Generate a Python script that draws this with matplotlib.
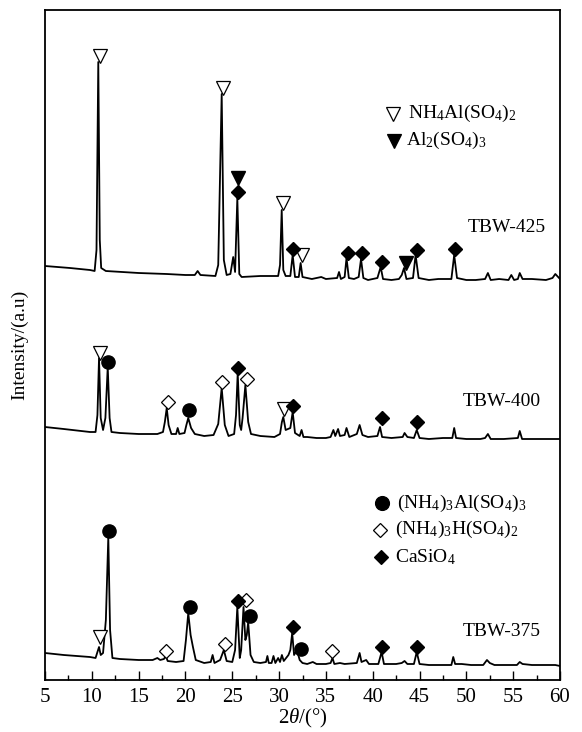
import matplotlib
matplotlib.use("Agg")
import matplotlib.pyplot as plt
from matplotlib.ticker import MultipleLocator

plt.rcParams['font.family'] = ['Liberation Serif', 'DejaVu Serif']
plt.rcParams['mathtext.fontset'] = 'custom'
plt.rcParams['mathtext.rm'] = 'Liberation Serif'
plt.rcParams['mathtext.it'] = 'Liberation Serif:italic'

# ---------------- data (2theta in degrees, intensity in arbitrary stacked units) --------------
x425 = [5.0, 7.67, 9.8, 10.3, 10.5, 10.69, 10.85, 11.0, 11.5, 15.0, 18.0, 20.0, 21.0, 21.3, 21.6,
        23.2, 23.5, 23.87, 24.1, 24.4, 24.8, 25.1, 25.3, 25.54, 25.75, 26.0, 28.0, 29.9, 30.1, 30.28,
        30.45, 30.7, 31.2, 31.45, 31.7, 32.1, 32.3, 32.5, 33.5, 34.5, 35.0, 36.2, 36.4, 36.6, 37.0,
        37.2, 37.45, 38.0, 38.5, 38.75, 39.0, 39.5, 40.5, 40.85, 41.1, 42.0, 42.8, 43.1, 43.34, 43.6,
        44.3, 44.58, 44.9, 46.0, 47.0, 48.4, 48.7, 49.0, 50.0, 51.0, 52.0, 52.3, 52.6, 53.5, 54.5,
        54.8, 55.1, 55.5, 55.7, 56.0, 57.0, 58.5, 59.2, 59.5, 60.0]
y425 = [414, 412, 410, 409, 430, 618, 440, 412, 409, 407, 406, 405, 405, 409, 405,
        404, 415, 586, 420, 405, 406, 423, 408, 482, 406, 403, 404, 404, 415, 470,
        410, 404, 404, 425, 403, 403, 417, 403, 401, 403, 401, 402, 408, 401, 403,
        422, 402, 401, 403, 421, 402, 400, 402, 413, 401, 400, 401, 405, 412, 401,
        402, 425, 402, 400, 401, 401, 425, 402, 400, 400, 401, 407, 400, 401, 400,
        405, 400, 401, 407, 401, 401, 400, 402, 406, 401]

x400 = [5.0, 7.0, 9.8, 10.4, 10.6, 10.77, 10.95, 11.2, 11.45, 11.7, 11.9, 12.1, 13.0, 15.0, 17.0,
        17.6, 17.8, 18.0, 18.2, 18.5, 19.0, 19.17, 19.35, 19.9, 20.1, 20.3, 20.6, 21.0, 22.0, 23.0,
        23.5, 23.87, 24.2, 24.6, 25.2, 25.4, 25.58, 25.8, 25.95, 26.1, 26.4, 26.7, 27.0, 28.0, 29.5,
        30.1, 30.3, 30.45, 30.7, 31.2, 31.45, 31.7, 32.2, 32.4, 32.6, 33.0, 34.0, 35.0, 35.5, 35.8,
        36.0, 36.3, 36.5, 37.0, 37.2, 37.5, 38.3, 38.6, 38.9, 39.5, 40.5, 40.78, 41.0, 42.0, 43.2,
        43.4, 43.7, 44.4, 44.7, 45.0, 46.0, 47.5, 48.5, 48.7, 48.9, 50.0, 51.5, 52.0, 52.3, 52.6,
        54.0, 55.5, 55.7, 55.95, 57.0, 58.5, 60.0]
y400 = [253, 251, 248, 248, 265, 322, 262, 250, 262, 313, 262, 248, 247, 246, 246,
        248, 258, 272, 255, 246, 246, 252, 246, 247, 255, 262, 252, 246, 244, 245,
        256, 292, 255, 244, 246, 265, 307, 255, 250, 262, 295, 258, 246, 244, 243,
        246, 258, 263, 250, 252, 268, 247, 244, 250, 243, 243, 242, 242, 243, 250,
        244, 251, 244, 245, 252, 243, 246, 255, 245, 243, 244, 253, 243, 242, 243,
        247, 243, 242, 250, 242, 241, 242, 242, 252, 242, 241, 241, 242, 246, 241,
        241, 242, 249, 241, 241, 241, 241]

x375 = [5.0, 7.0, 9.8, 10.4, 10.6, 10.77, 10.95, 11.2, 11.5, 11.76, 11.95, 12.2, 13.0, 15.0, 16.5,
        17.0, 17.3, 17.7, 17.9, 18.1, 19.0, 19.8, 20.05, 20.3, 20.55, 20.8, 21.1, 22.0, 22.7, 22.9,
        23.1, 23.7, 24.1, 24.4, 25.0, 25.3, 25.54, 25.8, 25.95, 26.2, 26.4, 26.55, 26.7, 26.95, 27.3,
        28.0, 28.6, 28.75, 28.9, 29.2, 29.4, 29.6, 29.9, 30.1, 30.3, 30.5, 31.0, 31.2, 31.4, 31.6,
        31.9, 32.2, 32.5, 33.0, 33.6, 34.0, 35.0, 35.5, 35.7, 35.9, 36.5, 37.0, 38.3, 38.6, 38.8,
        39.3, 39.6, 40.6, 40.95, 41.2, 42.5, 43.1, 43.4, 43.7, 44.4, 44.7, 45.0, 46.0, 47.5, 48.4,
        48.6, 48.8, 49.5, 50.5, 51.8, 52.2, 52.5, 53.0, 54.5, 55.4, 55.7, 56.0, 57.0, 58.0, 59.5, 60.0]
y375 = [27, 25, 23, 22, 28, 33, 25, 27, 60, 143, 50, 22, 21, 20, 20,
        22, 20, 21, 24, 19, 18, 19, 40, 67, 45, 33, 20, 17, 18, 25,
        17, 20, 30, 19, 18, 30, 73, 22, 30, 73, 40, 45, 58, 25, 18,
        17, 18, 24, 17, 17, 24, 17, 22, 18, 25, 19, 25, 30, 47, 25,
        30, 20, 17, 16, 18, 16, 16, 17, 22, 16, 17, 16, 17, 27, 18,
        20, 16, 16, 28, 16, 16, 17, 19, 16, 16, 28, 16, 15, 15, 15,
        23, 16, 16, 15, 15, 20, 17, 15, 15, 15, 18, 16, 15, 15, 15, 14]

# phase markers (2theta, stacked height)
nh4al_x = [10.87, 23.98, 30.38, 32.48, 10.87, 30.56, 10.87]
nh4al_y = [624, 592, 477, 425, 327, 271, 43]
al2so4_x = [25.64, 43.55]
al2so4_y = [502, 417]
ammal_x = [11.76, 20.38, 11.83, 20.45, 26.89, 32.34]
ammal_y = [318, 270, 149, 73, 64, 31]
ammh_x = [18.1, 23.9, 26.54, 17.92, 24.26, 26.43, 35.6]
ammh_y = [278, 298, 301, 29, 36, 80, 29]
casio_x = [25.58, 31.45, 37.33, 38.82, 40.96, 44.76, 48.78,
           25.61, 31.52, 41.02, 44.76,
           25.61, 31.45, 41.02, 44.76]
casio_y = [488, 431, 427, 427, 418, 430, 431,
           312, 274, 262, 258,
           79, 53, 33, 33]

sample_names = ['TBW-425', 'TBW-400', 'TBW-375']
sample_x = [54.3, 53.8, 53.8]
sample_y = [452, 278, 48]

phase_labels = ['NH$_4$Al(SO$_4$)$_2$', 'Al$_2$(SO$_4$)$_3$',
                '(NH$_4$)$_3$Al(SO$_4$)$_3$', '(NH$_4$)$_3$H(SO$_4$)$_2$', 'CaSiO$_4$']

# ---------------- figure ----------------
fig = plt.figure(figsize=(5.82, 7.32), dpi=100)
ax = fig.add_axes([45/582, 52/732, 515/582, 670/732])

for xs, ys in [(x425, y425), (x400, y400), (x375, y375)]:
    ax.plot(xs, ys, color='black', lw=1.3, solid_joinstyle='round')

mk = dict(linestyle='none', color='black', zorder=3)
ax.plot(nh4al_x, nh4al_y, marker='v', ms=10, mfc='white', mec='black', mew=0.9, **mk)
ax.plot(al2so4_x, al2so4_y, marker='v', ms=10, mfc='black', mec='black', **mk)
ax.plot(ammal_x, ammal_y, marker='o', ms=9.5, mfc='black', mec='black', **mk)
ax.plot(ammh_x, ammh_y, marker='D', ms=7.5, mfc='white', mec='black', mew=0.9, **mk)
ax.plot(casio_x, casio_y, marker='D', ms=7.5, mfc='black', mec='black', **mk)

for name, sx, sy in zip(sample_names, sample_x, sample_y):
    ax.text(sx, sy, name, ha='center', va='center', fontsize=14)

# legends drawn in axes coordinates
leg = [
    ('v', 'white', 0.676, 0.845, 0.704, phase_labels[0]),
    ('v', 'black', 0.678, 0.805, 0.700, phase_labels[1]),
    ('o', 'black', 0.654, 0.264, 0.683, phase_labels[2]),
    ('D', 'white', 0.650, 0.224, 0.680, phase_labels[3]),
    ('D', 'black', 0.652, 0.184, 0.680, phase_labels[4]),
]
for m, fc, mx, my, tx, lab in leg:
    ms = 10 if m != 'D' else 7.5
    ax.plot([mx], [my], marker=m, ms=ms, mfc=fc, mec='black', mew=0.9,
            linestyle='none', transform=ax.transAxes, clip_on=False)
    ax.text(tx, my, lab, transform=ax.transAxes, ha='left', va='center', fontsize=14)

ax.set_xlim(5, 60)
ax.set_ylim(0, 670)
ax.xaxis.set_major_locator(MultipleLocator(5))
ax.xaxis.set_minor_locator(MultipleLocator(2.5))
ax.tick_params(axis='x', which='major', direction='in', length=6.5, width=1.0,
               labelsize=15, pad=6, top=False)
ax.tick_params(axis='x', which='minor', direction='in', length=3.5, width=1.0, top=False)
ax.set_yticks([])
for s in ax.spines.values():
    s.set_linewidth(1.3)

ax.set_xlabel(r'2$\mathit{\theta}$/(°)', fontsize=15, labelpad=0)
ax.set_ylabel('Intensity/(a.u)', fontsize=14, labelpad=12)

fig.savefig('out.png', dpi=100)
